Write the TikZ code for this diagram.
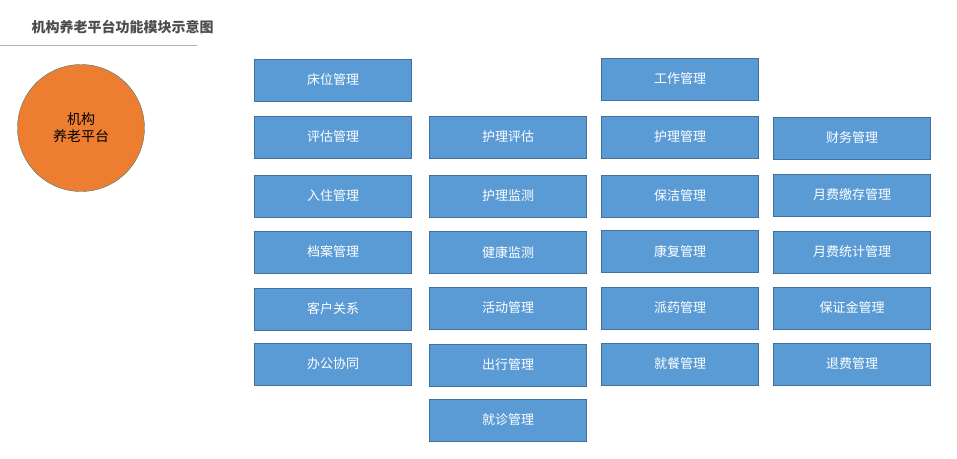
\documentclass[tikz,border=0pt]{standalone}
\usepackage{fontspec}
\setmainfont{Noto Sans CJK SC}
\definecolor{boxfill}{HTML}{5B9BD5}
\definecolor{boxline}{HTML}{41719C}
\definecolor{orng}{HTML}{ED7D31}
\begin{document}
\begin{tikzpicture}[x=1pt,y=-1pt,
  mod/.style={draw=boxline,fill=boxfill,minimum width=157pt,minimum height=42pt,inner sep=0pt,text=white,font=\fontsize{13pt}{15pt}\selectfont,line width=0.8pt}]
\useasboundingbox (0,0) rectangle (957,458);
\node[anchor=west,font=\bfseries\fontsize{14pt}{16pt}\selectfont,text=black!70] (title) at (28,27) {机构养老平台功能模块示意图};
\draw[black!30,line width=0.8pt] (0,45) -- (197,45);
\node[circle,draw=teal!50!gray,fill=orng,minimum size=127pt,inner sep=0pt,align=center,font=\fontsize{14pt}{17pt}\selectfont] (c) at (81,128) {机构\\养老平台};
\foreach \t/\y [count=\i] in {床位管理/80,评估管理/137,入住管理/196,档案管理/252,客户关系/309,办公协同/364}
  \node[mod] (a\i) at (333,\y) {\t};
\foreach \t/\y [count=\i] in {护理评估/137,护理监测/196,健康监测/252,活动管理/308,出行管理/365,就诊管理/420}
  \node[mod] (b\i) at (508,\y) {\t};
\foreach \t/\y [count=\i] in {工作管理/79,护理管理/137,保洁管理/196,康复管理/251,派药管理/308,就餐管理/364}
  \node[mod] (d\i) at (680,\y) {\t};
\foreach \t/\y [count=\i] in {财务管理/138,月费缴存管理/195,月费统计管理/252,保证金管理/308,退费管理/364}
  \node[mod] (e\i) at (852,\y) {\t};
\end{tikzpicture}
\end{document}
